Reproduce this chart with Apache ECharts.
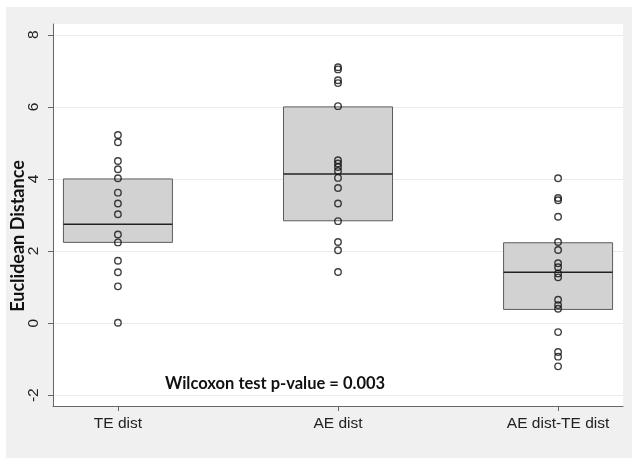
<!DOCTYPE html>
<html><head><meta charset="utf-8">
<script src="https://cdn.jsdelivr.net/npm/echarts@6/dist/echarts.min.js"></script>
<style>html,body{margin:0;padding:0;background:#fff}#c{width:632px;height:465px}</style>
</head><body><div id="c"></div>
<script>
const categories = ['TE dist', 'AE dist', 'AE dist-TE dist'];
const teDist = [5.22, 5.02, 4.5, 4.27, 4.02, 3.62, 3.32, 3.02, 2.46, 2.24, 1.73, 1.41, 1.02, 0.01];
const aeDist = [7.1, 7.04, 6.74, 6.66, 6.02, 4.52, 4.43, 4.33, 4.22, 4.03, 3.75, 3.32, 2.83, 2.25, 2.02, 1.42];
const diffDist = [4.02, 3.47, 3.41, 2.95, 2.25, 2.03, 1.66, 1.55, 1.38, 1.27, 0.65, 0.5, 0.4, -0.25, -0.8, -0.93, -1.2];
const q1 = [2.24, 2.84, 0.38];
const medians = [2.74, 4.14, 1.41];
const q3 = [4.0, 6.0, 2.23];
const yTicks = [-2, 0, 2, 4, 6, 8];
const yTitle = 'Euclidean Distance';
const annotation = 'Wilcoxon test p-value = 0.003';

const groups = [teDist, aeDist, diffDist];
const xPos = categories.map((c, i) => i + 1);

const chart = echarts.init(document.getElementById('c'), null, {renderer: 'canvas'});
const boxHalf = 54.5;

const scatterSeries = groups.map((vals, i) => ({
  type: 'scatter',
  z: 5,
  symbol: 'circle',
  symbolSize: 6.5,
  itemStyle: {color: 'rgba(0,0,0,0)', borderColor: '#111', borderWidth: 1.4},
  data: vals.map(v => [xPos[i], v]),
  silent: true
}));

chart.setOption({
  animation: false,
  backgroundColor: '#fff',
  graphic: [
    {type: 'rect', z: -10, shape: {x: 6, y: 7, width: 626, height: 451}, style: {fill: '#f0f0f0'}},
    {type: 'text', z: 10, x: 18, y: 236, rotation: Math.PI / 2,
      style: {text: yTitle, font: 'bold 18px Lato', fill: '#111', align: 'center', verticalAlign: 'middle'}},
    {type: 'text', z: 10, x: 275, y: 384,
      style: {text: annotation, font: 'bold 16.5px Lato', fill: '#111', align: 'center', verticalAlign: 'middle'}}
  ],
  grid: {left: 53, top: 24, right: 9, bottom: 59, show: true, backgroundColor: '#fff', borderWidth: 0},
  xAxis: {
    type: 'value', min: 0.705, max: 3.295,
    axisLine: {show: true, onZero: false, lineStyle: {color: '#666', width: 1}},
    axisTick: {show: true, length: 5, customValues: xPos, lineStyle: {color: '#666'}},
    axisLabel: {customValues: xPos, margin: 10, color: '#222', fontFamily: 'Liberation Sans', fontSize: 15.5,
      formatter: v => categories[Math.round(v) - 1] || ''},
    splitLine: {show: false}
  },
  yAxis: {
    type: 'value', min: -2.3, max: 8.3,
    axisLine: {show: true, onZero: false, lineStyle: {color: '#666', width: 1}},
    axisTick: {show: true, length: 5, customValues: yTicks, lineStyle: {color: '#666'}},
    axisLabel: {customValues: yTicks, rotate: 90, margin: 11, color: '#222', fontFamily: 'Liberation Sans', fontSize: 15.5},
    splitLine: {show: true, lineStyle: {color: '#ebebeb', width: 1}}
  },
  series: [{
    type: 'custom',
    z: 2,
    silent: true,
    encode: {x: 0, y: [1, 2, 3]},
    data: xPos.map((x, i) => [x, q1[i], medians[i], q3[i]]),
    renderItem: function (params, api) {
      const x = api.value(0);
      const lo = api.coord([x, api.value(1)]);
      const md = api.coord([x, api.value(2)]);
      const hi = api.coord([x, api.value(3)]);
      return {type: 'group', children: [
        {type: 'rect', shape: {x: lo[0] - boxHalf, y: hi[1], width: boxHalf * 2, height: lo[1] - hi[1]},
          style: {fill: '#d2d2d2', stroke: '#5c5c5c', lineWidth: 1}},
        {type: 'line', shape: {x1: lo[0] - boxHalf, y1: md[1], x2: lo[0] + boxHalf, y2: md[1]},
          style: {stroke: '#222', lineWidth: 1.5}}
      ]};
    }
  }].concat(scatterSeries)
});
</script></body></html>
